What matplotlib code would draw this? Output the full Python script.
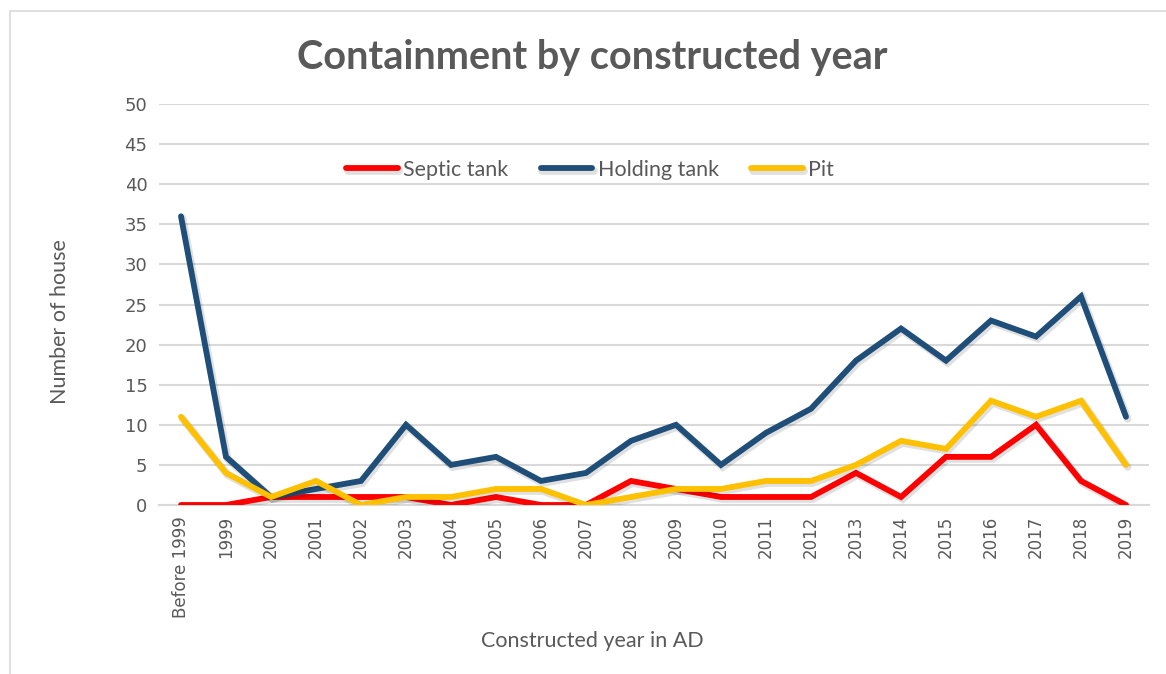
import matplotlib
matplotlib.use("Agg")
import matplotlib.pyplot as plt
import matplotlib.patheffects as pe
from matplotlib.patches import Rectangle

categories = ["Before 1999", "1999", "2000", "2001", "2002", "2003", "2004", "2005",
              "2006", "2007", "2008", "2009", "2010", "2011", "2012", "2013", "2014",
              "2015", "2016", "2017", "2018", "2019"]
septic = [0, 0, 1, 1, 1, 1, 0, 1, 0, 0, 3, 2, 1, 1, 1, 4, 1, 6, 6, 10, 3, 0]
holding = [36, 6, 1, 2, 3, 10, 5, 6, 3, 4, 8, 10, 5, 9, 12, 18, 22, 18, 23, 21, 26, 11]
pit = [11, 4, 1, 3, 0, 1, 1, 2, 2, 0, 1, 2, 2, 3, 3, 5, 8, 7, 13, 11, 13, 5]
series_names = ["Septic tank", "Holding tank", "Pit"]
series_colors = ["#FF0000", "#1F4E79", "#FFC000"]
yticks = [0, 5, 10, 15, 20, 25, 30, 35, 40, 45, 50]

W, H = 1166, 674
fig = plt.figure(figsize=(W / 100, H / 100), dpi=100)
ax = fig.add_axes([158.5 / W, 1 - 505 / H, 990 / W, 401 / H])

# chart border
fig.patches.append(Rectangle((10 / W, -0.1), 1.2, 1 - 11 / H + 0.1, transform=fig.transFigure,
                             fill=False, edgecolor="#D9D9D9", linewidth=1.2))

x = list(range(len(categories)))
shadow = [pe.SimpleLineShadow(offset=(1.2, -1.5), shadow_color="#000000", alpha=0.12, linewidth=5.5),
          pe.Normal()]
for vals, name, col in zip([septic, holding, pit], series_names, series_colors):
    ax.plot(x, vals, color=col, linewidth=4.2, label=name, solid_capstyle="round",
            solid_joinstyle="miter", path_effects=shadow, zorder=3)

ax.set_xlim(-0.5, len(categories) - 0.5)
ax.set_ylim(0, 50)
ax.set_yticks(yticks)
ax.set_xticks(x)
ax.set_xticklabels(categories, rotation=90, fontsize=12, color="#595959", family="DejaVu Sans")
ax.set_yticklabels([str(v) for v in yticks], fontsize=13, color="#595959", family="DejaVu Sans")
ax.tick_params(axis="both", length=0, pad=8)
ax.grid(axis="y", color="#D9D9D9", linewidth=1.5, zorder=0)
for s in ["top", "right", "left"]:
    ax.spines[s].set_visible(False)
ax.spines["bottom"].set_color("#D9D9D9")
ax.spines["bottom"].set_linewidth(1.5)

fig.text(592 / W, 1 - 58 / H, "Containment by constructed year", ha="center", va="center",
         fontsize=28.5, fontweight="bold", color="#595959", family="Lato")
fig.text(592 / W, 1 - 641 / H, "Constructed year in AD", ha="center", va="center",
         fontsize=15.5, color="#595959", family="Lato")
fig.text(60 / W, 1 - 322 / H, "Number of house", ha="center", va="center", rotation=90,
         fontsize=15.5, color="#595959", family="Lato")

leg = ax.legend(loc="center", bbox_to_anchor=(590 / W, 1 - 170 / H), bbox_transform=fig.transFigure,
                ncol=3, frameon=False, prop={"family": "Lato", "size": 15.5}, handlelength=2.4,
                columnspacing=1.5, handletextpad=0.25, labelcolor="#595959")

fig.savefig("out.png", dpi=100)
